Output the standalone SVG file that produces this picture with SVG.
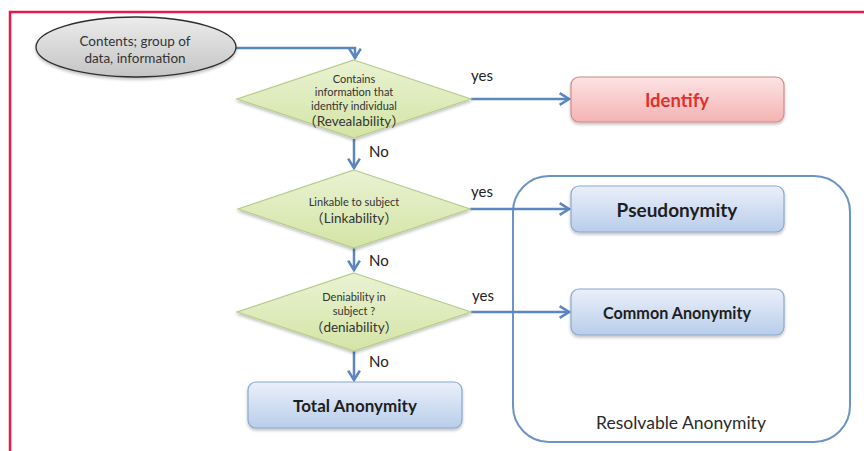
<svg xmlns="http://www.w3.org/2000/svg" width="864" height="451" viewBox="0 0 864 451">
  <defs>
    <linearGradient id="gEllipse" x1="0" y1="0" x2="0" y2="1">
      <stop offset="0" stop-color="#ececec"/>
      <stop offset="1" stop-color="#c4c4c4"/>
    </linearGradient>
    <linearGradient id="gDiamond" x1="0" y1="0" x2="0" y2="1">
      <stop offset="0" stop-color="#eaf2d2"/>
      <stop offset="1" stop-color="#d4e4a6"/>
    </linearGradient>
    <linearGradient id="gBlue" x1="0" y1="0" x2="0" y2="1">
      <stop offset="0" stop-color="#eaf0fa"/>
      <stop offset="1" stop-color="#b9cdea"/>
    </linearGradient>
    <linearGradient id="gRed" x1="0" y1="0" x2="0" y2="1">
      <stop offset="0" stop-color="#fde3e3"/>
      <stop offset="1" stop-color="#f4b3b3"/>
    </linearGradient>
    <filter id="shadow" x="-10%" y="-10%" width="120%" height="140%">
      <feDropShadow dx="0" dy="2" stdDeviation="1.5" flood-color="#000" flood-opacity="0.25"/>
    </filter>
    <marker id="arrow" markerUnits="userSpaceOnUse" markerWidth="14" markerHeight="14" viewBox="-10 -6 12 12" refX="0" refY="0" orient="auto">
      <path d="M-8,-5 L0,0 L-8,5" fill="none" stroke="#5a87c0" stroke-width="2.2" stroke-linejoin="miter"/>
    </marker>
  </defs>
  <style>
    .frame { fill: none; stroke: #e8194a; stroke-width: 2.5; }
    .conn { fill: none; stroke: #5a87c0; stroke-width: 2.5; marker-end: url(#arrow); }
    .lbl { font-family: Lato, "Liberation Sans", sans-serif; font-size: 15px; fill: #222; }
    .dtxt { font-family: Lato, "Noto Sans CJK JP", "Liberation Sans", sans-serif; fill: #333; text-anchor: middle; }
    .small { font-size: 11px; }
    .mid { font-size: 13.5px; }
    .btxt { font-family: Lato, "Liberation Sans", sans-serif; font-weight: bold; fill: #1e1e1e; text-anchor: middle; }
    .diamond { fill: url(#gDiamond); stroke: #b8cc8c; stroke-width: 1.2; filter: url(#shadow); }
    .blue { fill: url(#gBlue); stroke: #8aa7cf; stroke-width: 1.2; filter: url(#shadow); }
  </style>

  <!-- page frame -->
  <path class="frame" d="M10,451 V12 H864"/>

  <!-- group boundary -->
  <g id="resolvable-anonymity">
    <rect x="513" y="176" width="337" height="266" rx="36" ry="36" fill="none" stroke="#6a93c6" stroke-width="2"/>
    <text x="681" y="429" text-anchor="middle" font-family="Lato, 'Liberation Sans', sans-serif" font-size="17.5" fill="#2a2a2a">Resolvable Anonymity</text>
  </g>

  <!-- connectors -->
  <g id="connectors">
    <path class="conn" d="M236,48 H355 V58"/>
    <path class="conn" d="M471,99 H569"/>
    <path class="conn" d="M354,139 V168"/>
    <path class="conn" d="M470,209 H569"/>
    <path class="conn" d="M354,248 V270"/>
    <path class="conn" d="M471,312 H569"/>
    <path class="conn" d="M354,351 V380"/>
    <text class="lbl" x="471" y="81">yes</text>
    <text class="lbl" x="369" y="157">No</text>
    <text class="lbl" x="471" y="197">yes</text>
    <text class="lbl" x="369" y="266">No</text>
    <text class="lbl" x="472" y="301">yes</text>
    <text class="lbl" x="369" y="367">No</text>
  </g>

  <!-- start -->
  <g id="start">
    <ellipse cx="136" cy="47" rx="100" ry="30" fill="url(#gEllipse)" stroke="#2e2e2e" stroke-width="1.3" filter="url(#shadow)"/>
    <text class="dtxt" x="135" y="46" font-size="13.5">Contents; group of</text>
    <text class="dtxt" x="135" y="63" font-size="13.5">data, information</text>
  </g>

  <!-- decision: revealability -->
  <g id="revealability">
    <polygon class="diamond" points="354,60 471,99 354,138 237,99"/>
    <text class="dtxt small" x="354" y="83">Contains</text>
    <text class="dtxt small" x="354" y="96">information that</text>
    <text class="dtxt small" x="354" y="110">identify individual</text>
    <text class="dtxt mid" x="354" y="126">（Revealability）</text>
  </g>

  <!-- decision: linkability -->
  <g id="linkability">
    <polygon class="diamond" points="354,170 470,209 354,248 238,209"/>
    <text class="dtxt small" x="354" y="206">Linkable to subject</text>
    <text class="dtxt mid" x="354" y="223">（Linkability）</text>
  </g>

  <!-- decision: deniability -->
  <g id="deniability">
    <polygon class="diamond" points="354,273 471,312 354,351 237,312"/>
    <text class="dtxt small" x="354" y="301">Deniability in</text>
    <text class="dtxt small" x="354" y="315">subject ?</text>
    <text class="dtxt mid" x="354" y="332">（deniability）</text>
  </g>

  <!-- outcomes -->
  <g id="identify">
    <rect x="571" y="77" width="213" height="45" rx="8" ry="8" fill="url(#gRed)" stroke="#d08a8a" stroke-width="1.2" filter="url(#shadow)"/>
    <text class="btxt" x="677" y="107" font-size="18.5" style="fill:#e0312f">Identify</text>
  </g>

  <g id="pseudonymity">
    <rect class="blue" x="571" y="186" width="213" height="46" rx="8" ry="8"/>
    <text class="btxt" x="677" y="217" font-size="19">Pseudonymity</text>
  </g>

  <g id="common-anonymity">
    <rect class="blue" x="571" y="289" width="213" height="46" rx="8" ry="8"/>
    <text class="btxt" x="677" y="319" font-size="16.2">Common Anonymity</text>
  </g>

  <g id="total-anonymity">
    <rect class="blue" x="248" y="382" width="214" height="46" rx="8" ry="8"/>
    <text class="btxt" x="355" y="412" font-size="17">Total Anonymity</text>
  </g>
</svg>
